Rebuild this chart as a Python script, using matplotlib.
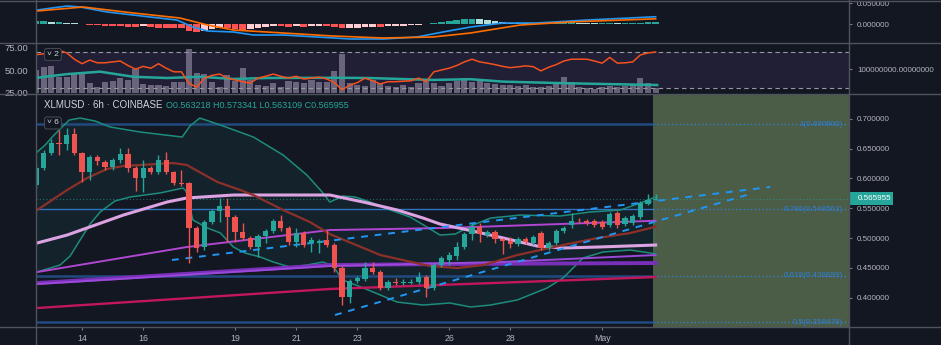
import numpy as np
import matplotlib.pyplot as plt
from matplotlib.lines import Line2D
from matplotlib.patches import Rectangle
from matplotlib.transforms import blended_transform_factory
from matplotlib.ticker import FormatStrFormatter, FuncFormatter

plt.rcParams['font.family'] = ['Liberation Sans', 'DejaVu Sans']

BG = '#131722'
UP = '#26a69a'
DOWN = '#ef5350'
TXT = '#b2b5be'
SEP = '#50535e'
W, H = 941, 345

# ---- data: XLMUSD 6h candles, x axis in days of April (first candle Apr 12 12:00) ----
t_start = 12.5
step = 0.25

opens = [0.5888, 0.6173, 0.6425, 0.6592, 0.6575, 0.6743, 0.6425, 0.6106, 0.6358, 0.6274,
         0.6190, 0.6307, 0.6408, 0.6173, 0.6006, 0.6173, 0.6106, 0.6307, 0.6106, 0.5922,
         0.5922, 0.5168, 0.4849, 0.5268, 0.5453, 0.5536, 0.5352, 0.5101, 0.5000, 0.4849,
         0.5034, 0.5117, 0.5285, 0.5168, 0.4933, 0.5084, 0.4916, 0.4916, 0.4967, 0.4883,
         0.4497, 0.4011, 0.4279, 0.4313, 0.4497, 0.4430, 0.4162, 0.4263, 0.4246, 0.4246,
         0.4263, 0.4346, 0.4162, 0.4548, 0.4632, 0.4699, 0.4849, 0.5067, 0.5184, 0.5050,
         0.5101, 0.4983, 0.4950, 0.4900, 0.4983, 0.4916, 0.5084, 0.4833, 0.4916, 0.5117,
         0.5218, 0.5285, 0.5285, 0.5285, 0.5268, 0.5218, 0.5419, 0.5235, 0.5251, 0.5352,
         0.5570, 0.563218]
highs = [0.6224, 0.6475, 0.6659, 0.6810, 0.6844, 0.6844, 0.6442, 0.6391, 0.6391, 0.6307,
         0.6341, 0.6509, 0.6509, 0.6207, 0.6307, 0.6207, 0.6391, 0.6442, 0.6123, 0.6140,
         0.5939, 0.5201, 0.5302, 0.5486, 0.5671, 0.5671, 0.5385, 0.5251, 0.5034, 0.5067,
         0.5151, 0.5318, 0.5385, 0.5201, 0.5168, 0.5117, 0.5017, 0.4983, 0.5134, 0.4916,
         0.4531, 0.4313, 0.4363, 0.4598, 0.4598, 0.4464, 0.4296, 0.4330, 0.4313, 0.4313,
         0.4430, 0.4380, 0.4581, 0.4699, 0.4766, 0.4933, 0.5101, 0.5251, 0.5251, 0.5134,
         0.5134, 0.5000, 0.5017, 0.5017, 0.5017, 0.5050, 0.5117, 0.4950, 0.5151, 0.5201,
         0.5419, 0.5335, 0.5318, 0.5318, 0.5302, 0.5436, 0.5453, 0.5369, 0.5402, 0.5620,
         0.5738, 0.573341]
lows = [0.5838, 0.6140, 0.6391, 0.6391, 0.6475, 0.6391, 0.5939, 0.5972, 0.6224, 0.6140,
        0.6140, 0.6257, 0.6106, 0.5788, 0.5771, 0.6073, 0.6073, 0.6073, 0.5888, 0.5872,
        0.4581, 0.4766, 0.4799, 0.5235, 0.5268, 0.4933, 0.4933, 0.4967, 0.4816, 0.4682,
        0.4916, 0.5084, 0.5117, 0.4883, 0.4849, 0.4849, 0.4766, 0.4749, 0.4849, 0.4430,
        0.3877, 0.3911, 0.4246, 0.4279, 0.4397, 0.4129, 0.4129, 0.4212, 0.4212, 0.4229,
        0.4229, 0.4011, 0.4129, 0.4514, 0.4548, 0.4632, 0.4816, 0.4967, 0.4933, 0.5017,
        0.4916, 0.4732, 0.4833, 0.4866, 0.4900, 0.4883, 0.4799, 0.4799, 0.4883, 0.5084,
        0.5168, 0.5251, 0.5218, 0.5184, 0.5151, 0.5184, 0.5168, 0.5201, 0.5218, 0.5318,
        0.5553, 0.563109]
closes = [0.6173, 0.6425, 0.6592, 0.6575, 0.6726, 0.6425, 0.6106, 0.6358, 0.6291, 0.6190,
          0.6307, 0.6408, 0.6173, 0.6006, 0.6173, 0.6106, 0.6307, 0.6106, 0.5922, 0.5905,
          0.5168, 0.4833, 0.5268, 0.5453, 0.5536, 0.5352, 0.5101, 0.5000, 0.4849, 0.5034,
          0.5117, 0.5285, 0.5168, 0.4933, 0.5084, 0.4883, 0.4967, 0.4950, 0.4883, 0.4497,
          0.4011, 0.4279, 0.4330, 0.4497, 0.4430, 0.4162, 0.4263, 0.4246, 0.4263, 0.4263,
          0.4346, 0.4162, 0.4548, 0.4665, 0.4715, 0.4849, 0.5067, 0.5184, 0.5067, 0.5101,
          0.4983, 0.4950, 0.4900, 0.4983, 0.4933, 0.5017, 0.4833, 0.4916, 0.5117, 0.5168,
          0.5285, 0.5280, 0.5251, 0.5218, 0.5184, 0.5402, 0.5218, 0.5335, 0.5369, 0.5587,
          0.5637, 0.565955]

volume_m = [95, 110, 112, 67, 68, 82, 85, 41, 25, 48,
            50, 62, 55, 99, 38, 34, 34, 30, 48, 48,
            181, 85, 79, 48, 27, 75, 50, 103, 55, 34,
            30, 41, 25, 52, 48, 41, 55, 48, 48, 93,
            162, 41, 34, 30, 55, 41, 30, 25, 34, 25,
            41, 55, 41, 30, 41, 52, 62, 48, 55, 41,
            38, 34, 34, 30, 34, 27, 25, 30, 41, 68,
            45, 25, 20, 16, 25, 30, 25, 30, 38, 62,
            41, 20]
rsi = [67, 68, 70, 72, 69, 62, 57, 61, 58, 58,
       59, 60, 55, 51, 54, 52, 57, 52, 48, 48,
       35, 31, 41, 44, 45.5, 41, 39, 37, 35.5, 41,
       43, 45.5, 43, 41, 43, 40, 41, 42, 40, 36,
       28, 33, 36, 41, 38, 34.5, 37, 37, 37.5, 38,
       41, 37, 48, 50, 52, 55, 59, 62, 59, 57.6,
       56, 54, 52.6, 53.5, 54.6, 53.7, 49, 53, 56, 60,
       62, 62, 62, 60, 57.6, 64, 57.6, 58, 59, 66.7,
       69, 70]
macd_hist_k = [7, 7, 6, 6, 3, 2, 0.5, -1, -2, -4,
               -5, -5, -6, -7, -5, -6, -8, -9, -10, -10,
               -17, -19, -15, -12, -9, -10, -12, -13, -12, -9,
               -6, -4, -4, -6, -5, -6, -5, -4, -4, -7,
               -10, -9, -8, -7, -6, -7, -5, -4, -3, -2,
               -1, 1, 4, 6, 8, 10, 12, 13, 12, 10,
               8, 6, 4, 3, 2, 2, 1, 1, 3, 4,
               5, 4, 3, 2, 2, 3, 2, 2, 2, 4,
               5, 5]

# indicator lines, read at candle index positions
ub_idx = [0.13, 1.18, 2.22, 3.27, 4.32, 5.75, 7.72, 9.68, 13.6, 19.1, 20.1, 21.4, 24.1, 28.4, 32.3, 35.4, 37.4,
          38.4, 40.1, 41.7, 43.7, 46.3, 48.9, 50.9, 52.8, 54.8, 56.8, 59.4, 63.3, 68.5, 72.4, 76.4, 79.0, 81.0]
ub_val = [0.6442, 0.6559, 0.6710, 0.6844, 0.6978, 0.7011, 0.6961, 0.6861, 0.6777, 0.6693, 0.6877, 0.7011, 0.6894,
          0.6693, 0.6391, 0.6056, 0.5771, 0.5603, 0.5704, 0.5688, 0.5603, 0.5470, 0.5352, 0.5201, 0.5050, 0.5067,
          0.5201, 0.5335, 0.5385, 0.5369, 0.5436, 0.5470, 0.5587, 0.5688]
lb_idx = [0.13, 3.14, 4.45, 5.75, 7.06, 8.37, 10.3, 12.3, 16.2, 19.2, 19.6, 20.5, 22.4, 24.1, 25.8, 27.3, 29.3,
          31.0, 33.2, 35.4, 37.5, 38.8, 40.1, 41.1, 42.8, 47.2, 50.6, 54.1, 56.8, 59.4, 62.9, 66.8, 68.9, 71.5,
          74.1, 77.7, 80.3, 81.0]
lb_val = [0.4430, 0.4548, 0.4699, 0.4967, 0.5235, 0.5436, 0.5620, 0.5688, 0.5755, 0.5838, 0.5788, 0.5302, 0.5168,
          0.5084, 0.4849, 0.4749, 0.4682, 0.4598, 0.4514, 0.4548, 0.4598, 0.4531, 0.4296, 0.4246, 0.4162, 0.3927,
          0.3877, 0.3911, 0.3844, 0.3877, 0.3961, 0.4162, 0.4330, 0.4665, 0.4766, 0.4799, 0.4749, 0.4732]
basis_idx = [0.13, 4.05, 6.67, 9.28, 11.4, 15.8, 17.9, 19.7, 23.7, 26.7, 28.4, 32.3, 35.8, 38.4, 45.0, 51.5,
             55.1, 58.5, 62.9, 68.9, 73.4, 77.7, 81.0]
basis_val = [0.5469, 0.5805, 0.6006, 0.6157, 0.6207, 0.6241, 0.6257, 0.6224, 0.5939, 0.5805, 0.5721, 0.5470,
             0.5268, 0.5067, 0.4715, 0.4530, 0.4497, 0.4548, 0.4715, 0.4883, 0.5000, 0.5084, 0.5190]
pink_idx = [0.13, 4.05, 11.4, 17.1, 19.7, 25.8, 38.4, 42.8, 47.2, 50.6, 52.8, 57.1, 61.1, 65.5, 68.9, 73.4, 81.0]
pink_val = [0.4917, 0.5050, 0.5385, 0.5603, 0.5671, 0.5721, 0.5721, 0.5603, 0.5470, 0.5335, 0.5235, 0.5117,
            0.5000, 0.4866, 0.4833, 0.4849, 0.4883]
violet_idx = [0.13, 19.7, 38.4, 53.4, 81.0]
violet_val = [0.4430, 0.4849, 0.5134, 0.5168, 0.5290]
purple1_idx = [0.13, 38.4, 54.1, 81.0]
purple1_val = [0.4246, 0.4548, 0.4565, 0.4581]
purple2_idx = [0.13, 38.4, 60.7, 81.0]
purple2_val = [0.4229, 0.4531, 0.4598, 0.4715]
crimson_idx = [0.13, 38.4, 81.0]
crimson_val = [0.3827, 0.4146, 0.4346]

macd_idx = [0.13, 4.05, 5.75, 9.28, 14.9, 18.4, 20.5, 22.4, 25.8, 28.4, 32.3, 36.7, 41.1, 45.4, 49.8, 53.2,
            56.8, 61.1, 65.5, 72.1, 80.3, 81.0]
macd_val = [0.0340, 0.0436, 0.0412, 0.0293, 0.0174, 0.0102, -0.0064, -0.0160, -0.0183, -0.0255, -0.0255,
            -0.0302, -0.0350, -0.0350, -0.0302, -0.0183, -0.0064, 0.0031, 0.0031, 0.0102, 0.0174, 0.0180]
signal_idx = [0.13, 6.15, 12.7, 18.8, 22.4, 25.8, 32.3, 38.8, 45.4, 51.9, 56.8, 63.3, 69.8, 80.3, 81.0]
signal_val = [0.0317, 0.0412, 0.0269, 0.0150, -0.0017, -0.0136, -0.0207, -0.0279, -0.0326, -0.0302, -0.0207,
              -0.0017, 0.0055, 0.0126, 0.0130]
vma_idx = [0.13, 4.05, 8.37, 12.7, 17.1, 21.4, 25.8, 30.2, 38.8, 43.3, 47.6, 51.9, 56.8, 61.1, 69.8, 81.2]
vma_val = [64, 79, 89, 68, 63, 68, 59, 63, 64, 63, 59, 55, 58, 48, 41, 34]

trend_a_t = [16.94, 36.49]
trend_a_p = [0.4632, 0.5855]
trend_b_t = [22.27, 35.84]
trend_b_p = [0.3710, 0.5738]

fib_ratio = ['1', '0.786', '0.618', '0.5']
fib_price = [0.690800, 0.548563, 0.436699, 0.358478]

day_ticks = [14, 16, 19, 21, 23, 26, 28, 31]
day_labels = ['14', '16', '19', '21', '23', '26', '28', 'May']
box_start = 32.67   # green projection area

x0, x1 = 12.496, 39.08


def idx_t(ix):
    return t_start + step * np.asarray(ix)


t = idx_t(np.arange(len(closes)))

fig = plt.figure(figsize=(W / 100, H / 100), dpi=100, facecolor=BG)


def px_axes(l, top, r, b):
    a = fig.add_axes([l / W, 1 - b / H, (r - l) / W, (b - top) / H])
    a.set_facecolor(BG)
    for s in a.spines.values():
        s.set_visible(False)
    return a


ax_macd = px_axes(36, 0.5, 849.3, 43.3)
ax_vol = px_axes(36, 43.3, 849.3, 94.3)
ax = px_axes(36, 94.3, 849.3, 326.7)
ax_rsi = ax_vol.twinx()
for s in ax_rsi.spines.values():
    s.set_visible(False)

# ---- main price panel ----
ax.set_xlim(x0, x1)
ax.set_ylim(0.3514, 0.7409)
ax.axvspan(box_start, x1, color='#4b5d47', lw=0, zorder=0.5)

bx = np.concatenate([idx_t(ub_idx), idx_t(lb_idx)[::-1]])
by = np.concatenate([ub_val, lb_val[::-1]])
ax.fill(bx, by, color=UP, alpha=0.08, lw=0, zorder=1)
ax.plot(idx_t(ub_idx), ub_val, color='#1d8c7c', lw=1.1, zorder=2)
ax.plot(idx_t(lb_idx), lb_val, color='#1d8c7c', lw=1.1, zorder=2)

ax.plot(idx_t(crimson_idx), crimson_val, color='#c2185b', lw=1.7, zorder=2)
ax.plot(idx_t(purple1_idx), purple1_val, color='#7a2fb8', lw=2.8, zorder=2)
ax.plot(idx_t(purple2_idx), purple2_val, color='#9a49d8', lw=1.4, zorder=2)
ax.plot(idx_t(violet_idx), violet_val, color='#b046d2', lw=1.4, zorder=2)
ax.plot(idx_t(pink_idx), pink_val, color='#dca3e2', lw=2.2, zorder=2)
ax.plot(idx_t(basis_idx), basis_val, color='#8c3029', lw=1.6, zorder=2)

blend = blended_transform_factory(ax.transAxes, ax.transData)
for r, p in zip(fib_ratio, fib_price):
    main_col = '#2e74c0' if r == '0.786' else '#214a80'
    ax.plot([x0, box_start], [p, p], color=main_col, lw=1.0 if r == '0.786' else 1.8, zorder=1.5)
    ax.plot([box_start, x1], [p, p], color='#2f86e0', lw=0.9, ls=(0, (1, 2)), zorder=1.5)
    ax.text(0.9923, p, f'{r}({p:.6f})', transform=blend, color='#2f7fd8', fontsize=5.8,
            ha='right', va='center', zorder=6)

last = closes[-1]
ax.plot([x0, x1], [last, last], color=UP, lw=0.8, ls=(0, (1, 2)), alpha=0.6, zorder=1.5)

for tt, pp in ((trend_a_t, trend_a_p), (trend_b_t, trend_b_p)):
    ax.plot(tt, pp, color='#2196f3', lw=1.4, ls=(0, (3.5, 3.5)), zorder=3)

colors = [UP if c >= o else DOWN for o, c in zip(opens, closes)]
ax.vlines(t, lows, highs, colors=colors, lw=1, zorder=4)
bottoms = np.minimum(opens, closes)
heights = np.maximum(np.abs(np.subtract(closes, opens)), 0.0007)
ax.bar(t, heights, bottom=bottoms, width=0.17, color=colors, lw=0, zorder=5)

ax.yaxis.tick_right()
ax.set_yticks(np.arange(0.40, 0.7001, 0.05))
ax.yaxis.set_major_formatter(FormatStrFormatter('%.6f'))
ax.tick_params(axis='y', colors='#787b86', labelcolor=TXT, labelsize=5.8, length=2.2, pad=3.3, width=0.8)
ax.set_xticks(day_ticks)
ax.set_xticklabels(day_labels)
ax.tick_params(axis='x', colors='#787b86', labelcolor=TXT, labelsize=6.3, length=2, pad=3.6, width=0.8)

ax.add_patch(Rectangle((1.0, last - 0.0105), 0.054, 0.021, transform=blend, fc=UP, ec='none',
                       clip_on=False, zorder=7))
ax.text(1.0098, last, f'{last:.6f}', transform=blend, color='white', fontsize=5.8,
        ha='left', va='center', zorder=8, clip_on=False)

# ---- MACD panel ----
ax_macd.set_xlim(x0, x1)
ax_macd.set_ylim(-0.04524, 0.05667)
hist = np.array(macd_hist_k) / 1000
hcols = []
for k, h in enumerate(hist):
    prev = hist[k - 1] if k else h
    if h >= 0:
        hcols.append('#26a69a' if h >= prev else '#b2dfdb')
    else:
        hcols.append('#ff5252' if h <= prev else '#ffcdd2')
ax_macd.bar(t, hist, width=0.22, color=hcols, lw=0, zorder=2)
ax_macd.plot(idx_t(macd_idx), macd_val, color='#2196f3', lw=1.2, zorder=3)
ax_macd.plot(idx_t(signal_idx), signal_val, color='#ff6d00', lw=1.2, zorder=3)
ax_macd.yaxis.tick_right()
ax_macd.set_yticks([0.0, 0.05])
ax_macd.yaxis.set_major_formatter(FormatStrFormatter('%.6f'))
ax_macd.set_xticks([])
ax_macd.tick_params(axis='y', colors='#787b86', labelcolor=TXT, labelsize=5.8, length=2.2, pad=3.3, width=0.8)

# ---- RSI + volume panel ----
ax_vol.set_xlim(x0, x1)
ax_vol.set_ylim(-4.1, 205.8)
ax_rsi.set_ylim(23.0, 79.67)
band_tr = blended_transform_factory(ax_vol.transAxes, ax_rsi.transData)
ax_vol.add_patch(Rectangle((0, 30), 1, 40, transform=band_tr, fc='#7e57c2', alpha=0.13, lw=0, zorder=0.5))
ax_vol.bar(t, volume_m, width=0.2, color='#8a829c', alpha=0.7, lw=0, zorder=1)
ax_vol.plot(idx_t(vma_idx), vma_val, color=UP, lw=1.8, zorder=2)
ax_vol.yaxis.tick_right()
ax_vol.set_yticks([100])
ax_vol.yaxis.set_major_formatter(FuncFormatter(lambda v, p: f'{v * 1e6:.8f}'))
ax_vol.set_xticks([])
ax_vol.tick_params(axis='y', colors='#787b86', labelcolor=TXT, labelsize=5.8, length=2.2, pad=3.3, width=0.8)

for lvl in (70, 30):
    ax_rsi.axhline(lvl, color='#9598a1', lw=0.8, ls=(0, (4, 3)), zorder=2)
ax_rsi.plot(t, rsi, color='#f4511e', lw=1.1, zorder=3)
ax_rsi.yaxis.tick_left()
ax_rsi.set_yticks([25, 50, 75])
ax_rsi.yaxis.set_major_formatter(FormatStrFormatter('%.2f'))
ax_rsi.tick_params(axis='y', labelcolor=TXT, labelsize=6.8, length=0, pad=5.5)

# ---- separators and header texts ----
for yy in (0.6, 43.3, 94.3, 326.7):
    fig.add_artist(Line2D([0, 1], [1 - yy / H] * 2, transform=fig.transFigure, color=SEP, lw=1))
for xx in (36, 849.3):
    fig.add_artist(Line2D([xx / W] * 2, [0, 1], transform=fig.transFigure, color=SEP, lw=1))

fig.text(44 / W, 1 - 105 / H, 'XLMUSD · 6h · COINBASE', color='#d1d4dc', fontsize=7, ha='left', va='center')
fig.text(166 / W, 1 - 105 / H,
         f'O{opens[-1]:.6f} H{highs[-1]:.6f} L{lows[-1]:.6f} C{closes[-1]:.6f}',
         color=UP, fontsize=6.5, ha='left', va='center')
box = dict(boxstyle='round,pad=0.3', fc=BG, ec='#434651', lw=0.8)
fig.text(47 / W, 1 - 54.5 / H, '\u02c5 2', color='#d1d4dc', fontsize=6, ha='left', va='center', bbox=box)
fig.text(47 / W, 1 - 123 / H, '\u02c5 6', color='#d1d4dc', fontsize=6, ha='left', va='center', bbox=box)

fig.savefig('out.png', dpi=100, facecolor=BG)
